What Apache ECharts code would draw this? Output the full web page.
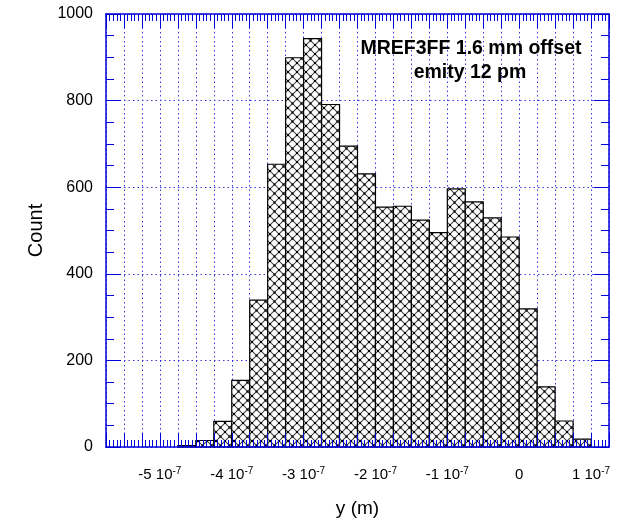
<!DOCTYPE html>
<html>
<head>
<meta charset="utf-8">
<script src="https://cdn.jsdelivr.net/npm/echarts@6/dist/echarts.min.js"></script>
<style>html,body{margin:0;padding:0;background:#fff}#c{width:623px;height:526px}</style>
</head>
<body>
<div id="c"></div>
<script>
// Bin edges in units of 1e-7 m
var binStart = [-4.75,-4.5,-4.25,-4.0,-3.75,-3.5,-3.25,-3.0,-2.75,-2.5,-2.25,-2.0,-1.75,-1.5,-1.25,-1.0,-0.75,-0.5,-0.25,0,0.25,0.5,0.75];
var binEnd   = [-4.5,-4.25,-4.0,-3.75,-3.5,-3.25,-3.0,-2.75,-2.5,-2.25,-2.0,-1.75,-1.5,-1.25,-1.0,-0.75,-0.5,-0.25,0,0.25,0.5,0.75,1.0];
var counts   = [3,15,59,154,339,653,899,943,791,695,631,554,556,524,495,596,566,529,485,319,139,60,18];
var xTickLabels = [-5,-4,-3,-2,-1,0,1];
var yTicks = [0,200,400,600,800,1000];
var titleLines = ['MREF3FF 1.6 mm offset','emity 12 pm'];

var FONT = '"Liberation Sans", Arial, sans-serif';
var BLUE = '#0000dd';
var GRID = '#3a3ae0';

// crosshatch pattern tile
var tile = document.createElement('canvas');
var T = 9;
tile.width = T; tile.height = T;
var g = tile.getContext('2d');
g.fillStyle = '#fff'; g.fillRect(0,0,T,T);
g.strokeStyle = '#444'; g.lineWidth = 1.1;
g.beginPath();
g.moveTo(-1,-1); g.lineTo(T+1,T+1);
g.moveTo(T+1,-1); g.lineTo(-1,T+1);
g.stroke();
g.fillStyle = '#000';
g.fillRect(T/2-1,T/2-1,2,2);
g.fillRect(-1,-1,2,2); g.fillRect(T-1,-1,2,2); g.fillRect(-1,T-1,2,2); g.fillRect(T-1,T-1,2,2);

var data = binStart.map(function(s,i){ return [s, binEnd[i], counts[i]]; });

var chart = echarts.init(document.getElementById('c'), null, {renderer:'canvas'});
var xBase = {min:-5.75, max:1.25, interval:0.25, type:'value', gridIndex:0};
var yBase = {min:0, max:1000, interval:200, type:'value', gridIndex:0};
function xLabel(v){
  var r = Math.round(v);
  if (Math.abs(v - r) > 1e-6 || xTickLabels.indexOf(r) < 0) return '';
  if (r === 0) return '{b|0}';
  return '{b|' + r + ' 10}{s|-7}';
}
var tickStyle = {color:BLUE, width:1};
chart.setOption({
  animation:false,
  textStyle:{fontFamily:FONT},
  grid:{left:106, right:14, top:14, bottom:79, containLabel:false},
  xAxis:[
    Object.assign({}, xBase, {position:'bottom', z:0,
      axisLine:{show:false, onZero:false}, axisTick:{show:false}, axisLabel:{show:false},
      splitLine:{show:true, lineStyle:{color:GRID, type:[1.5,3], width:1}}}),
    Object.assign({}, xBase, {position:'bottom', z:10,
      name:'y (m)', nameLocation:'middle', nameGap:52,
      nameTextStyle:{fontSize:19, color:'#000', fontFamily:FONT},
      axisLine:{show:true, onZero:false, lineStyle:{color:BLUE, width:1.5}},
      axisTick:{show:true, inside:true, length:14, lineStyle:tickStyle},
      minorTick:{show:true, splitNumber:5, length:7, lineStyle:tickStyle},
      splitLine:{show:false},
      axisLabel:{show:true, margin:19, color:'#000', formatter:xLabel, showMinLabel:true, showMaxLabel:true,
        rich:{b:{fontSize:15, fontFamily:FONT, color:'#000', lineHeight:17}, s:{fontSize:10, fontFamily:FONT, color:'#000', verticalAlign:'top', lineHeight:17, padding:[0,0,7,0]}}}}),
    Object.assign({}, xBase, {position:'top', z:10,
      axisLine:{show:true, onZero:false, lineStyle:{color:BLUE, width:1.5}},
      axisTick:{show:true, inside:true, length:14, lineStyle:tickStyle},
      minorTick:{show:true, splitNumber:5, length:7, lineStyle:tickStyle},
      splitLine:{show:false}, axisLabel:{show:false}})
  ],
  yAxis:[
    Object.assign({}, yBase, {position:'left', z:0,
      axisLine:{show:false, onZero:false}, axisTick:{show:false}, axisLabel:{show:false},
      splitLine:{show:true, lineStyle:{color:GRID, type:[1.5,3], width:1}}}),
    Object.assign({}, yBase, {position:'left', z:10,
      name:'Count', nameLocation:'middle', nameGap:58, nameRotate:90,
      nameTextStyle:{fontSize:20, color:'#000', fontFamily:FONT},
      axisLine:{show:true, onZero:false, lineStyle:{color:BLUE, width:1.5}},
      axisTick:{show:true, inside:true, length:15, lineStyle:tickStyle},
      minorTick:{show:true, splitNumber:4, length:8, lineStyle:tickStyle},
      splitLine:{show:false},
      axisLabel:{show:true, margin:13, color:'#000', fontSize:16, fontFamily:FONT,
        formatter:function(v){ return yTicks.indexOf(v) >= 0 ? String(v) : ''; }}}),
    Object.assign({}, yBase, {position:'right', z:10,
      axisLine:{show:true, onZero:false, lineStyle:{color:BLUE, width:1.5}},
      axisTick:{show:true, inside:true, length:15, lineStyle:tickStyle},
      minorTick:{show:true, splitNumber:4, length:8, lineStyle:tickStyle},
      splitLine:{show:false}, axisLabel:{show:false}})
  ],
  graphic:[
    {type:'text', x:471, y:39, z:20, style:{text:titleLines[0], font:'bold 19.5px ' + FONT, fill:'#000', align:'center', verticalAlign:'top'}},
    {type:'text', x:470, y:63, z:20, style:{text:titleLines[1], font:'bold 19.5px ' + FONT, fill:'#000', align:'center', verticalAlign:'top'}}
  ],
  series:[{
    type:'custom', xAxisIndex:0, yAxisIndex:0, z:2,
    data:data,
    renderItem:function(params, api){
      var p0 = api.coord([api.value(0), api.value(2)]);
      var p1 = api.coord([api.value(1), 0]);
      return {type:'rect',
        shape:{x:p0[0], y:p0[1], width:p1[0]-p0[0], height:p1[1]-p0[1]},
        style:{fill:{image:tile, repeat:'repeat'}, stroke:'#000', lineWidth:1.2}};
    }
  }]
});
</script>
</body>
</html>
